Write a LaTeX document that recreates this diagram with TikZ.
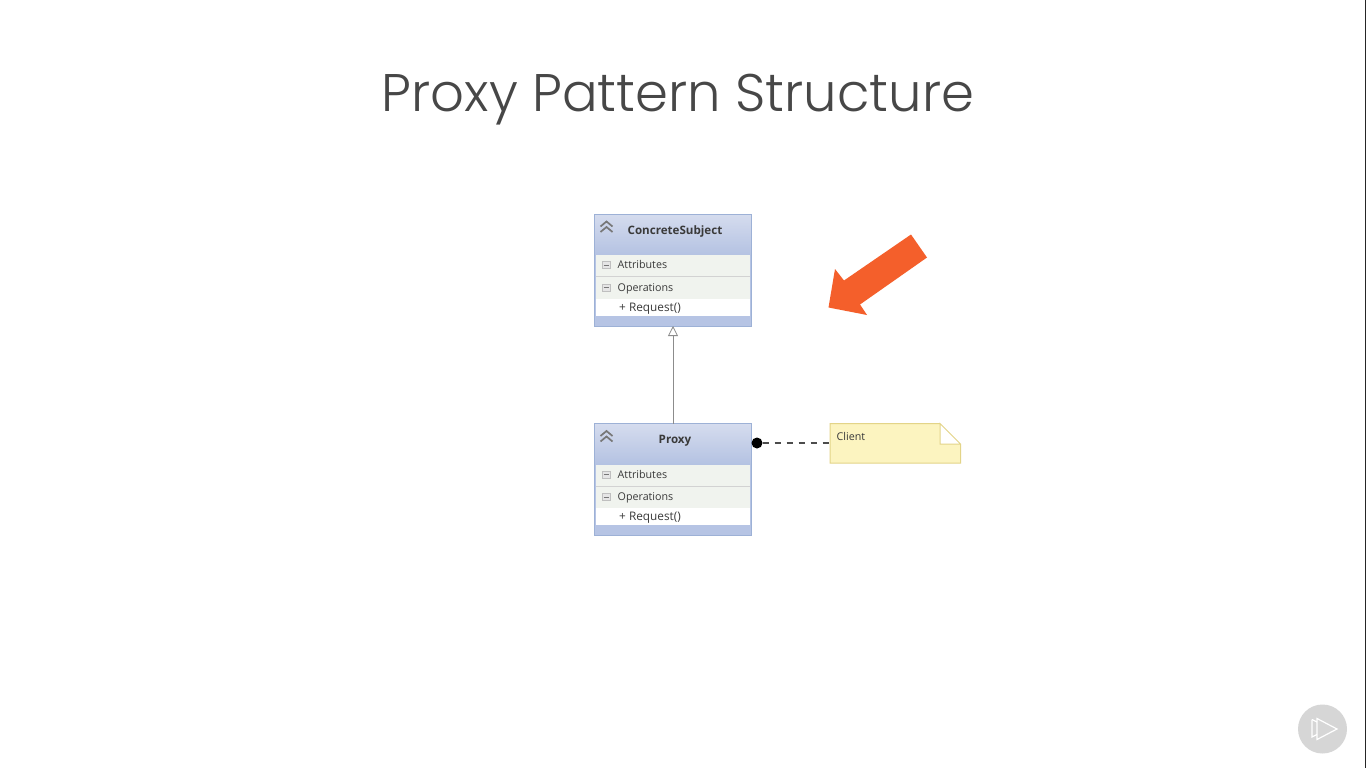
\documentclass[tikz,border=0pt]{standalone}
\usepackage{fontspec}
\setmainfont{Open Sans}
\newfontfamily\titlefont[UprightFont=* Light]{Poppins}
\usetikzlibrary{arrows.meta,shapes.geometric}
\definecolor{boxedge}{HTML}{9DB1D6}
\definecolor{headtop}{HTML}{D5DCEE}
\definecolor{headbot}{HTML}{B4C2E2}
\definecolor{band}{HTML}{F0F3EE}
\definecolor{foot}{HTML}{B6C4E4}
\definecolor{ink}{HTML}{3A3A3A}
\definecolor{notefill}{HTML}{FCF4C0}
\definecolor{noteedge}{HTML}{E3D488}
\definecolor{arrowc}{HTML}{F45F2B}
\definecolor{titlec}{HTML}{474747}
\definecolor{glyph}{HTML}{777777}
\tikzset{
  x=1pt,y=-1pt,
  boxtext/.style={inner sep=0pt,anchor=west,font=\fontsize{10.7}{12}\selectfont,text=ink},
  reqtext/.style={inner sep=0pt,anchor=west,font=\fontsize{11.8}{12}\selectfont,text=ink},
  headtext/.style={inner sep=0pt,font=\fontsize{11.6}{13}\selectfont\bfseries,text=ink},
  classshape/.pic={
    \fill[foot] (0,0) rectangle (157,112);
    \shade[top color=headtop,bottom color=headbot] (0,0) rectangle (157,41);
    \fill[band] (1.5,41) rectangle (155.5,63);
    \fill[band] (1.5,63) rectangle (155.5,85);
    \draw[gray!35,line width=.7pt] (1.5,62.5) -- (155.5,62.5);
    \fill[white] (1.5,84.5) rectangle (155.5,101.5);
    \draw[boxedge,line width=1pt] (0,0) rectangle (157,112);
    \draw[glyph,line width=1.7pt] (6,12.5) -- (12,7.5) -- (18,12.5);
    \draw[glyph,line width=1.7pt] (6,18) -- (12,13) -- (18,18);
    \foreach \yy in {51,73.5}{
      \fill[white!80!gray,draw=gray!50,line width=.4pt] (7.5,\yy-3.5) rectangle (15.5,\yy+3.5);
      \draw[glyph,line width=.9pt] (9,\yy) -- (14,\yy);
    }
  }
}
\begin{document}
\begin{tikzpicture}
\useasboundingbox (0,0) rectangle (1366,768);
\fill[white] (0,0) rectangle (1366,768);
\fill[black!85] (1365,0) rectangle (1366,768);
\node[inner sep=0pt,font=\titlefont\fontsize{52.9}{60}\selectfont,text=titlec] (title) at (678,100) {Proxy Pattern Structure};

% upper class
\pic at (594.5,214) {classshape};
\node[headtext] (csname) at (675,231) {ConcreteSubject};
\node[boxtext] (csattr) at (617.5,264.5) {Attributes};
\node[boxtext] (csops) at (617.5,289) {Operations};
\node[reqtext] (csreq) at (619,308.5) {+ Request()};
\coordinate (csbottom) at (673,326);

% lower class
\pic at (594.5,423.5) {classshape};
\node[headtext] (pname) at (675,440.5) {Proxy};
\node[boxtext] (pattr) at (617.5,474.5) {Attributes};
\node[boxtext] (pops) at (617.5,498) {Operations};
\node[reqtext] (preq) at (619,517.5) {+ Request()};
\coordinate (ptop) at (673,423.5);

% inheritance
\draw[gray!90,line width=.8pt,-{Triangle[open,length=10pt,width=10pt,fill=white]}] (ptop) -- (csbottom);

% note
\fill[notefill] (830,423.5) -- (940,423.5) -- (960.5,444) -- (960.5,463) -- (830,463) -- cycle;
\fill[white] (940,423.5) -- (960.5,444) -- (940,444) -- cycle;
\draw[noteedge,line width=1pt] (940,423.5) -- (830,423.5) -- (830,463) -- (960.5,463) -- (960.5,444) -- (940,423.5) -- (940,444) -- (960.5,444);
\node[boxtext] (client) at (836.5,436.5) {Client};
\coordinate (noteleft) at (830,443);
\node[circle,fill=black,inner sep=0pt,minimum size=11pt] (dot) at (757,443) {};
\draw[black!70,line width=1.1pt,dash pattern=on 6pt off 6pt] (dot.east) -- (noteleft);

% orange arrow
\fill[arrowc] (911,234.5) -- (927,257.5) -- (860,304.5) -- (867,315) -- (828.5,307.5) -- (835,269) -- (844,280.5) -- cycle;

% play badge
\fill[black!16] (1322.5,729) circle (24.5);
\draw[white,line width=1.2pt,line join=miter] (1317,718.5) -- (1337,729) -- (1317,739.5) -- cycle;
\draw[white,line width=1.2pt] (1312,719.5) -- (1312,737) -- (1317,734.5);
\draw[white,line width=1.2pt] (1312,719.5) -- (1317,722);
\end{tikzpicture}
\end{document}
